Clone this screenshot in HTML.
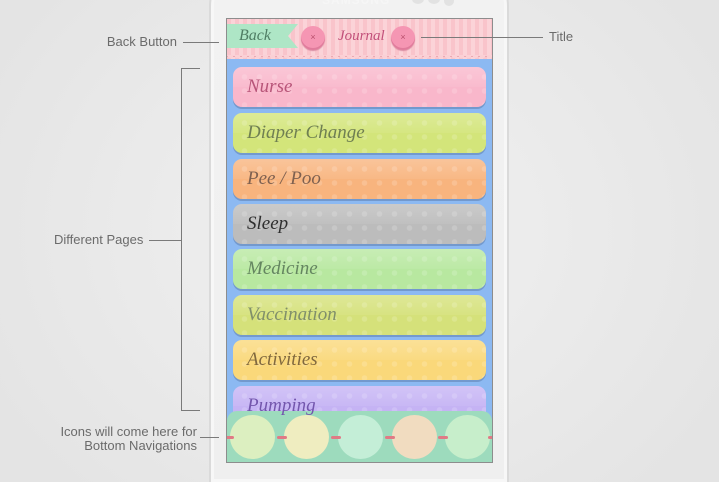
<!DOCTYPE html>
<html><head><meta charset="utf-8">
<style>
*{margin:0;padding:0;box-sizing:border-box}
html,body{width:719px;height:482px;overflow:hidden}
body{position:relative;
background:radial-gradient(ellipse 420px 360px at 360px 230px,#f1f1f1 0%,#eaeaea 55%,#e4e4e4 100%);
font-family:"Liberation Sans",sans-serif}
.wrap{position:absolute;left:0;top:0;width:719px;height:482px;overflow:hidden}
.abs{position:absolute}
.phone{left:209px;top:-40px;width:300px;height:522px;border-radius:46px 46px 0 0;
border:2px solid #dadada;border-bottom:none;background:linear-gradient(#f2f2f2,#efefef);box-shadow:inset 0 0 0 3px #f7f7f7}
.screen{left:226px;top:18px;width:267px;height:445px;border:1px solid #8d8d8d;background:#8cb9f2;overflow:hidden}
.hdr{left:0;top:0;width:265px;height:40px;
background:repeating-linear-gradient(90deg,#f9c4cb 0 4px,#fbd3d8 4px 8px)}
.scal{left:0;top:36px;width:265px;height:6px;
background:radial-gradient(circle at 50% 0,#fbd0d5 0 3px,transparent 3.5px) 0 0/7px 6px repeat-x;}
.scline{left:0;top:37px;width:265px;height:1px;background:#e0939f}
.ribbon{left:0;top:5px;width:71px;height:24px;background:#aee6c6;
clip-path:polygon(0 0,100% 0,86% 50%,100% 100%,0 100%)}
.btn{width:24px;height:24px;border-radius:50%;background:#f596b3;box-shadow:inset 0 -2px 0 #e07c9c,0 1px 1px #d98aa0;
color:#b9506e;font-size:9px;text-align:center;line-height:23px}
.row{left:6px;width:253px;height:40px;border-radius:9px;overflow:hidden;
box-shadow:0 2px 0 rgba(60,80,120,.3)}
.row::before{content:"";position:absolute;left:0;top:0;right:0;bottom:0;
background:radial-gradient(circle,rgba(255,255,255,.16) 0 2.5px,transparent 3px) 4px 3px/15px 14px}
.row::after{content:"";position:absolute;left:0;top:0;right:0;height:20px;
background:linear-gradient(rgba(255,255,255,.22),rgba(255,255,255,.06))}
.row span{position:absolute;left:14px;top:9px;font-family:"Liberation Serif",serif;font-style:italic;font-size:19px;z-index:2}
.nav{left:0;top:392px;width:265px;height:52px;background:#9ddbbd;border-radius:10px 10px 0 0}
.c{width:45px;height:44px;border-radius:50%;top:4px}
.bow{width:10px;height:3px;background:#e07a85;top:25px;border-radius:2px}
.lbl{color:#6b6b6b;font-size:13px;line-height:14px;white-space:nowrap}
.ln{background:#7a7a7a}
</style></head><body>
<div class="wrap">
<div class="abs phone"></div>
<div class="abs" style="left:322px;top:-7px;font-size:12px;color:#f6f6f6;font-weight:bold;letter-spacing:1px">SAMSUNG</div>
<div class="abs" style="left:412px;top:-6px;width:12px;height:10px;border-radius:50%;background:#e2e2e2"></div>
<div class="abs" style="left:428px;top:-6px;width:12px;height:10px;border-radius:50%;background:#e2e2e2"></div>
<div class="abs" style="left:444px;top:-4px;width:10px;height:10px;border-radius:50%;background:#e2e2e2"></div>

<div class="abs screen">
  <div class="abs hdr"></div>
  <div class="abs scline"></div>
  <div class="abs scal"></div>
  <div class="abs ribbon"></div>
  <div class="abs" style="left:12px;top:8px;font-family:'Liberation Serif',serif;font-style:italic;font-size:16px;color:#4f7d64">Back</div>
  <div class="abs btn" style="left:74px;top:7px">×</div>
  <div class="abs" style="left:111px;top:9px;font-family:'Liberation Serif',serif;font-style:italic;font-size:15px;color:#c2507a">Journal</div>
  <div class="abs btn" style="left:164px;top:7px">×</div>

  <div class="abs row" style="top:48px;background:#f9b7cb"><span style="color:#b85579">Nurse</span></div>
  <div class="abs row" style="top:94px;background:#d3e57a"><span style="color:#6f7f52">Diaper Change</span></div>
  <div class="abs row" style="top:140px;background:#f8b47e"><span style="color:#7f6150">Pee / Poo</span></div>
  <div class="abs row" style="top:185px;background:#bcbcbc"><span style="color:#2f2f2f">Sleep</span></div>
  <div class="abs row" style="top:230px;background:#b8e8a0"><span style="color:#648560">Medicine</span></div>
  <div class="abs row" style="top:276px;background:#d5e17a"><span style="color:#808f6a">Vaccination</span></div>
  <div class="abs row" style="top:321px;background:#fad87a"><span style="color:#80683e">Activities</span></div>
  <div class="abs row" style="top:367px;background:#c5b3f4"><span style="color:#7356ad">Pumping</span></div>

  <div class="abs nav">
    <div class="abs c" style="left:3px;background:#dcefc0"></div>
    <div class="abs c" style="left:57px;background:#efedc0"></div>
    <div class="abs c" style="left:111px;background:#c4eed7"></div>
    <div class="abs c" style="left:165px;background:#f1dcc0"></div>
    <div class="abs c" style="left:218px;background:#c7eecb"></div>
    <div class="abs bow" style="left:-3px"></div>
    <div class="abs bow" style="left:50px"></div>
    <div class="abs bow" style="left:104px"></div>
    <div class="abs bow" style="left:158px"></div>
    <div class="abs bow" style="left:211px"></div>
    <div class="abs bow" style="left:261px"></div>
  </div>
</div>

<!-- annotations -->
<div class="abs lbl" style="right:542px;top:35px">Back Button</div>
<div class="abs ln" style="left:183px;top:42px;width:36px;height:1px"></div>

<div class="abs lbl" style="left:549px;top:30px">Title</div>
<div class="abs ln" style="left:421px;top:37px;width:122px;height:1px"></div>

<div class="abs ln" style="left:181px;top:68px;width:1px;height:343px"></div>
<div class="abs ln" style="left:181px;top:68px;width:19px;height:1px"></div>
<div class="abs ln" style="left:181px;top:410px;width:19px;height:1px"></div>
<div class="abs ln" style="left:149px;top:240px;width:32px;height:1px"></div>
<div class="abs lbl" style="left:54px;top:233px">Different Pages</div>

<div class="abs lbl" style="right:522px;top:425px;text-align:right">Icons will come here for<br>Bottom Navigations</div>
<div class="abs ln" style="left:200px;top:437px;width:19px;height:1px"></div>
</div>
</body></html>
